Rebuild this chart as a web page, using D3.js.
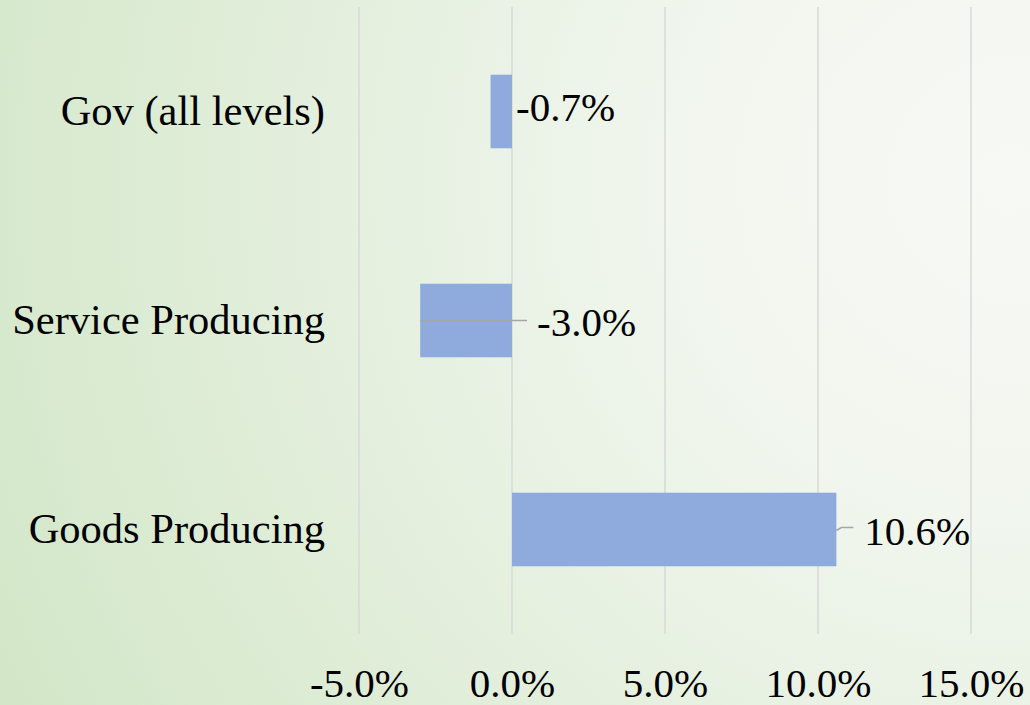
<!DOCTYPE html>
<html>
<head>
<meta charset="utf-8">
<script src="https://cdn.jsdelivr.net/npm/d3@7"></script>
<style>
  html, body { margin: 0; padding: 0; overflow: hidden; }
  svg { display: block; }
  text { font-family: "Liberation Serif", "Times New Roman", serif; fill: #000; }
</style>
</head>
<body>
<div class="chart"></div>
<script>
const WIDTH = 1030;
const HEIGHT = 705;

// Data
const categories = ["Gov (all levels)", "Service Producing", "Goods Producing"];
const values = [-0.7, -3.0, 10.6];
const tickValues = [-5, 0, 5, 10, 15];

const fmt = d => d.toFixed(1) + "%";

const svg = d3.select(".chart")
  .append("svg")
  .attr("width", WIDTH)
  .attr("height", HEIGHT);

// background gradient (light green on the left fading to white on the right)
const defs = svg.append("defs");
const grad = defs.append("radialGradient")
  .attr("id", "bg")
  .attr("gradientUnits", "userSpaceOnUse")
  .attr("cx", 1010).attr("cy", 180).attr("r", 1120);
grad.append("stop").attr("offset", "0%").attr("stop-color", "#f7f9f5");
grad.append("stop").attr("offset", "30%").attr("stop-color", "#f1f6ee");
grad.append("stop").attr("offset", "100%").attr("stop-color", "#d3e7c8");

svg.append("rect")
  .attr("width", WIDTH)
  .attr("height", HEIGHT)
  .attr("fill", "url(#bg)");

// scales
const x = d3.scaleLinear().domain([-5, 15]).range([359, 971]);
const y = d3.scaleBand()
  .domain(categories)
  .range([7, 634])
  .paddingInner(0.648)
  .paddingOuter(0.324);

const rows = categories.map((c, i) => ({ cat: c, value: values[i] }));

// gridlines
svg.append("g").attr("class", "grid")
  .selectAll("line")
  .data(tickValues)
  .join("line")
  .attr("x1", d => x(d)).attr("x2", d => x(d))
  .attr("y1", 7).attr("y2", 634)
  .attr("stroke", "#d9d9d9")
  .attr("stroke-width", 1.5);

// bars
svg.append("g").attr("class", "bars")
  .selectAll("rect")
  .data(rows)
  .join("rect")
  .attr("x", d => x(Math.min(0, d.value)))
  .attr("y", d => y(d.cat))
  .attr("width", d => Math.abs(x(d.value) - x(0)))
  .attr("height", y.bandwidth())
  .attr("fill", "#8faadc");

// x axis labels (no axis line)
const xAxis = svg.append("g")
  .attr("class", "x-axis")
  .attr("transform", "translate(0, 697)")
  .call(d3.axisBottom(x).tickValues(tickValues).tickFormat(fmt).tickSize(0).tickPadding(0));
xAxis.select(".domain").remove();
xAxis.selectAll("text")
  .attr("y", 0)
  .attr("dy", 0)
  .attr("font-size", 41)
  .attr("font-family", "Liberation Serif, Times New Roman, serif")
  .attr("fill", "#000");

// category labels
svg.append("g").attr("class", "y-labels")
  .selectAll("text")
  .data(rows)
  .join("text")
  .attr("x", 325)
  .attr("y", d => y(d.cat) + y.bandwidth() / 2 + 13)
  .attr("text-anchor", "end")
  .attr("font-size", 42.5)
  .text(d => d.cat);

// leader lines (gov label sits by the axis, no line)
const cy = d => y(d.cat) + y.bandwidth() / 2;
const leader = d3.line();
svg.append("g").attr("class", "leaders")
  .selectAll("path")
  .data(rows.filter(d => d.cat !== "Gov (all levels)"))
  .join("path")
  .attr("d", d => d.value < 0
    ? leader([[x(d.value), cy(d)], [x(0) + 15, cy(d)]])
    : leader([[x(d.value), cy(d) + 1], [x(d.value) + 5, cy(d) - 2], [x(d.value) + 17, cy(d) - 2]]))
  .attr("fill", "none")
  .attr("stroke", "#a6a6a6")
  .attr("stroke-width", 1.5);

// data labels
const labelX = d => {
  if (d.cat === "Gov (all levels)") return x(0) + 4;
  if (d.value < 0) return x(0) + 25;
  return x(d.value) + 28;
};
const labelDy = d => d.cat === "Gov (all levels)" ? 9 : 15;

svg.append("g").attr("class", "value-labels")
  .selectAll("text")
  .data(rows)
  .join("text")
  .attr("x", labelX)
  .attr("y", d => cy(d) + labelDy(d))
  .attr("font-size", 41)
  .text(d => fmt(d.value));
</script>
</body>
</html>
